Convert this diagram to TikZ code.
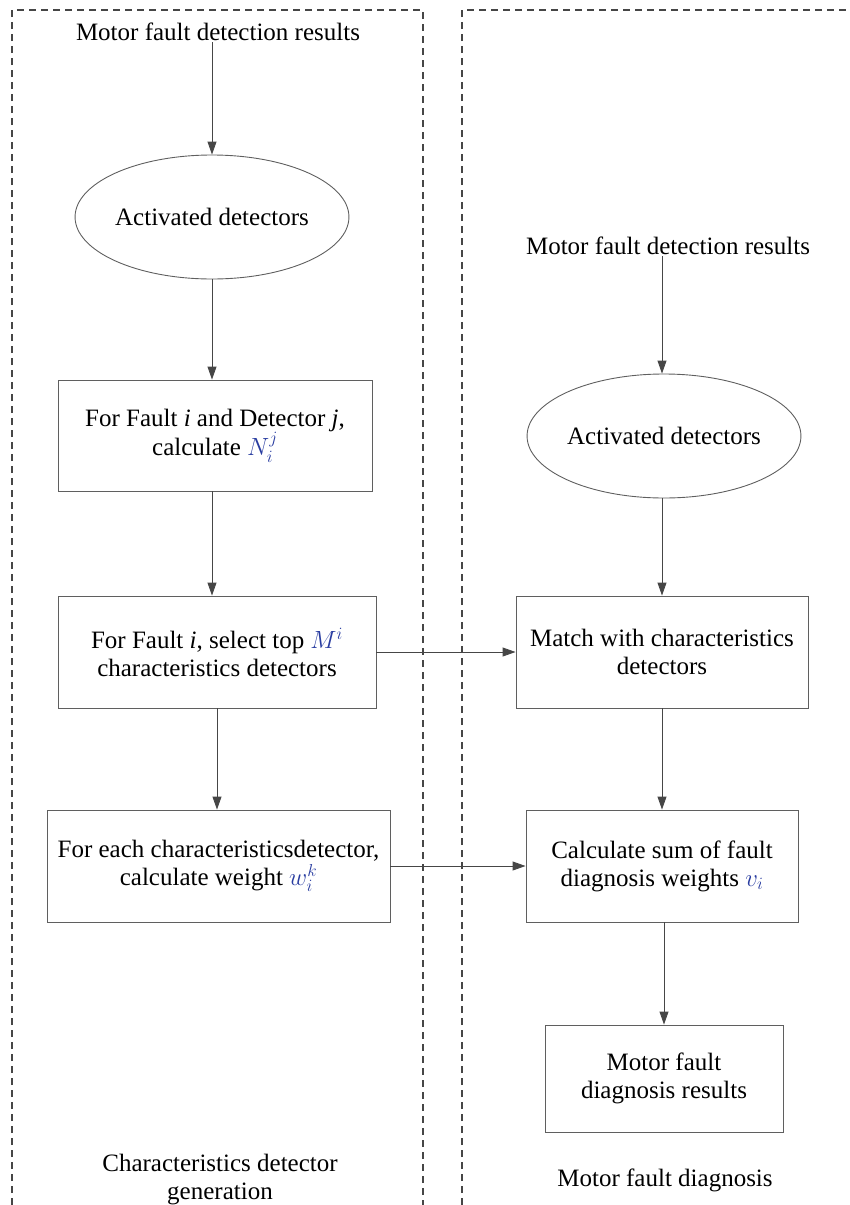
\documentclass[tikz,border=0pt]{standalone}
\usepackage{fontspec}
\setmainfont{Liberation Serif}
\usepackage{amsmath}
\usepackage{tikz}
\usetikzlibrary{positioning, arrows.meta, shapes.geometric, calc}
\definecolor{linegray}{RGB}{70,70,70}
\definecolor{boxgray}{RGB}{95,95,95}
\definecolor{mathblue}{RGB}{40,60,160}
\newcommand{\Var}[1]{\textcolor{mathblue}{$#1$}}
\tikzset{
    box/.style={draw=boxgray, line width=0.9pt, rectangle, inner sep=2pt, align=center},
    ellip/.style={draw=boxgray, line width=0.9pt, ellipse, inner sep=0pt,
      minimum width=254pt, minimum height=124pt},
    plain/.style={inner sep=1pt, align=center},
    arr/.style={draw=linegray, line width=0.9pt, -{Triangle[length=13pt,width=9pt]}},
    dashbox/.style={draw=linegray, line width=1.1pt, dash pattern=on 7pt off 5pt},
}

\begin{document}
\begin{tikzpicture}[x=1pt, y=-1pt]
    \tikzset{
      every node/.append style={font=\fontsize{25}{28}\selectfont}
    }
    \useasboundingbox (0,0) rectangle (849,1205);

    % the two parts
    \draw[dashbox] (12,1205) |- (423,10) -- (423,1205);
    \draw[dashbox] (462,1205) |- (849,10);

    % characteristics detector generation
    \node[plain] (lres) at (218,32) {Motor fault detection results};
    \node[ellip] (ldet) at (212,217) {Activated detectors};
    \node[box, minimum width=314pt, minimum height=111pt] (lcount) at (215,435.5)
      {For Fault \textit{i} and Detector \textit{j},\\ calculate \Var{N_i^j}};
    \node[box, minimum width=318pt, minimum height=112pt] (lselect) at (217,652)
      {For Fault \textit{i}, select top \Var{M^i}\\characteristics detectors};
    \node[box, minimum width=343pt, minimum height=112pt] (lweight) at (218.5,866)
      {For each characteristicsdetector,\\ calculate weight \Var{w_i^k}};
    \node[plain] (lcap) at (220,1180) {Characteristics detector\\generation};

    % motor fault diagnosis
    \node[plain] (rres) at (668,246) {Motor fault detection results};
    \node[ellip] (rdet) at (664,436) {Activated detectors};
    \node[box, minimum width=292pt, minimum height=112pt] (rmatch) at (662,652)
      {Match with characteristics\\detectors};
    \node[box, minimum width=272pt, minimum height=112pt] (rsum) at (662,866)
      {Calculate sum of fault\\ diagnosis weights \Var{v_i}};
    \node[box, minimum width=238pt, minimum height=107pt] (rdiag) at (664,1078.5)
      {Motor fault\\diagnosis results};
    \node[plain] (rcap) at (665,1180) {Motor fault diagnosis};

    % connectors
    \draw[arr] (lres.south -| ldet.north) -- (ldet.north);
    \draw[arr] (ldet.south) -- (ldet.south |- lcount.north);
    \draw[arr] (lcount.south -| ldet.south) -- (ldet.south |- lselect.north);
    \draw[arr] (lselect.south) -- (lselect.south |- lweight.north);
    \draw[arr] (lselect.east) -- (rmatch.west);
    \draw[arr] (lweight.east) -- (lweight.east -| rsum.west);
    \draw[arr] (rres.south -| rmatch.north) -- (rmatch.north |- rdet.north);
    \draw[arr] (rdet.south -| rmatch.north) -- (rmatch.north);
    \draw[arr] (rmatch.south) -- (rsum.north);
    \draw[arr] (rsum.south -| rdiag.north) -- (rdiag.north);

\end{tikzpicture}
\end{document}
